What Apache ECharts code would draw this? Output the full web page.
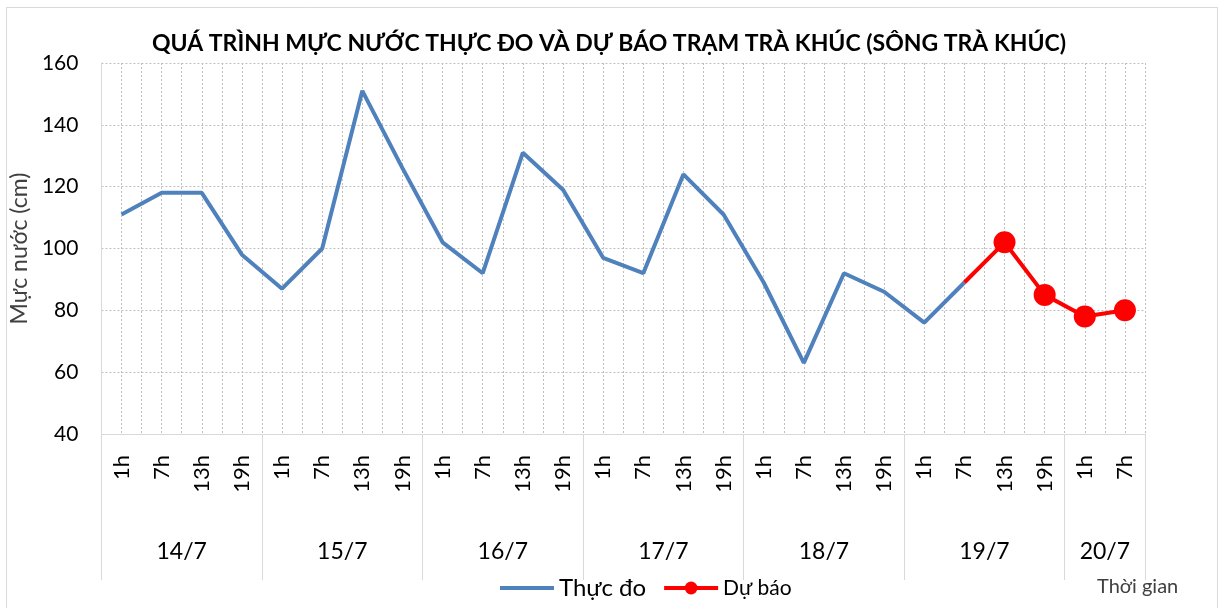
<!DOCTYPE html>
<html>
<head>
<meta charset="utf-8">
<script src="https://cdn.jsdelivr.net/npm/echarts@6/dist/echarts.min.js"></script>
<style>
  html, body { margin: 0; padding: 0; background: #fff; }
  #chart { width: 1218px; height: 608px; }
</style>
</head>
<body>
<div id="chart"></div>
<script>
// ngày và số mốc giờ trong mỗi ngày
const days = ['14/7', '15/7', '16/7', '17/7', '18/7', '19/7', '20/7']
const hoursPerDay = [4, 4, 4, 4, 4, 4, 2]
const hourNames = ['1h', '7h', '13h', '19h']

// mực nước thực đo (cm), đến 7h 19/7
const observed = [111, 118, 118, 98, 87, 100, 151, 126, 102, 92, 131, 119,
  97, 92, 124, 111, 89, 63, 92, 86, 76, 89]
// mực nước dự báo (cm), từ 7h 19/7
const forecast = [89, 102, 85, 78, 80]

const yTicks = { min: 40, max: 160, step: 20 }

const hourLabels = []
hoursPerDay.forEach(n => { for (let i = 0; i < n; i++) hourLabels.push(hourNames[i]) })
const total = hourLabels.length

// vị trí giữa mỗi ngày trên trục phụ
const dayCenter = {}
let acc = 0
hoursPerDay.forEach((n, i) => { dayCenter[acc + n / 2] = days[i]; acc += n })

const obsData = observed.slice()
const fcData = new Array(total).fill(null)
forecast.forEach((v, i) => {
  const idx = observed.length - 1 + i
  fcData[idx] = i === 0 ? { value: v, symbol: 'none' } : v
})

const FONT = 'Lato, "Open Sans", sans-serif'
const gridColor = '#bfbfbf'
const edgeColor = '#d9d9d9'

const chart = echarts.init(document.getElementById('chart'))
chart.setOption({
  animation: false,
  textStyle: { fontFamily: FONT },
  title: {
    text: 'QUÁ TRÌNH MỰC NƯỚC THỰC ĐO VÀ DỰ BÁO TRẠM TRÀ KHÚC (SÔNG TRÀ KHÚC)',
    left: 'center',
    top: 27,
    textStyle: { fontFamily: FONT, fontSize: 23, fontWeight: 'bold', color: '#000' }
  },
  graphic: [
    {
      type: 'rect', left: 4, top: 5, silent: true,
      shape: { width: 1211, height: 640 },
      style: { fill: 'none', stroke: edgeColor, lineWidth: 1 }
    },
    {
      type: 'text', left: 1097, top: 577,
      style: { text: 'Thời gian', font: '20px ' + FONT, fill: '#404040' }
    }
  ],
  legend: {
    top: 571,
    left: 493,
    itemWidth: 54,
    itemHeight: 16,
    itemGap: 16,
    data: [
      { name: 'Thực đo', itemStyle: { opacity: 0 }, lineStyle: { width: 4 }, textStyle: { fontSize: 24, color: '#000' } },
      { name: 'Dự báo', lineStyle: { width: 4 }, textStyle: { fontSize: 21, color: '#000' } }
    ]
  },
  grid: { left: 100, right: 73, top: 63, bottom: 174 },
  xAxis: [
    {
      type: 'category',
      data: hourLabels,
      boundaryGap: true,
      axisLine: { lineStyle: { color: edgeColor, width: 1 } },
      axisTick: { show: false },
      axisLabel: { rotate: 90, margin: 21, fontSize: 22, color: '#000', interval: 0 },
      splitLine: { show: false }
    },
    {
      // lưới dọc và nhãn ngày
      type: 'value',
      position: 'bottom',
      min: 0,
      max: total,
      interval: 0.5,
      axisLine: { show: false },
      axisTick: { show: false },
      axisLabel: {
        margin: 106,
        fontSize: 23,
        color: '#000',
        showMinLabel: true,
        showMaxLabel: true,
        formatter: v => dayCenter[v] || ''
      },
      splitLine: { show: true, lineStyle: { color: gridColor, type: [2, 2], width: 1 } }
    },
    {
      // vạch phân cách ngày
      type: 'value',
      position: 'bottom',
      offset: 146,
      min: 0,
      max: total,
      interval: 4,
      axisLine: { show: false },
      axisTick: { show: true, inside: true, length: 146, lineStyle: { color: edgeColor, width: 1 } },
      axisLabel: { show: false },
      splitLine: { show: false }
    }
  ],
  yAxis: {
    type: 'value',
    min: yTicks.min,
    max: yTicks.max,
    interval: yTicks.step,
    name: 'Mực nước (cm)',
    nameLocation: 'middle',
    nameGap: 49,
    nameTextStyle: { fontSize: 23, color: '#404040' },
    axisLine: { show: true, lineStyle: { color: edgeColor, width: 1 } },
    axisTick: { show: false },
    axisLabel: { fontSize: 21, color: '#000', margin: 23 },
    splitLine: { lineStyle: { color: gridColor, type: [2, 2], width: 1 } }
  },
  series: [
    {
      name: 'Thực đo',
      type: 'line',
      data: obsData,
      symbol: 'none',
      lineStyle: { color: '#4F81BD', width: 4 },
      itemStyle: { color: '#4F81BD' },
      z: 3
    },
    {
      name: 'Dự báo',
      type: 'line',
      data: fcData,
      symbol: 'circle',
      symbolSize: 22,
      showAllSymbol: true,
      lineStyle: { color: '#FF0000', width: 4 },
      itemStyle: { color: '#FF0000' },
      z: 4
    }
  ]
})
</script>
</body>
</html>
